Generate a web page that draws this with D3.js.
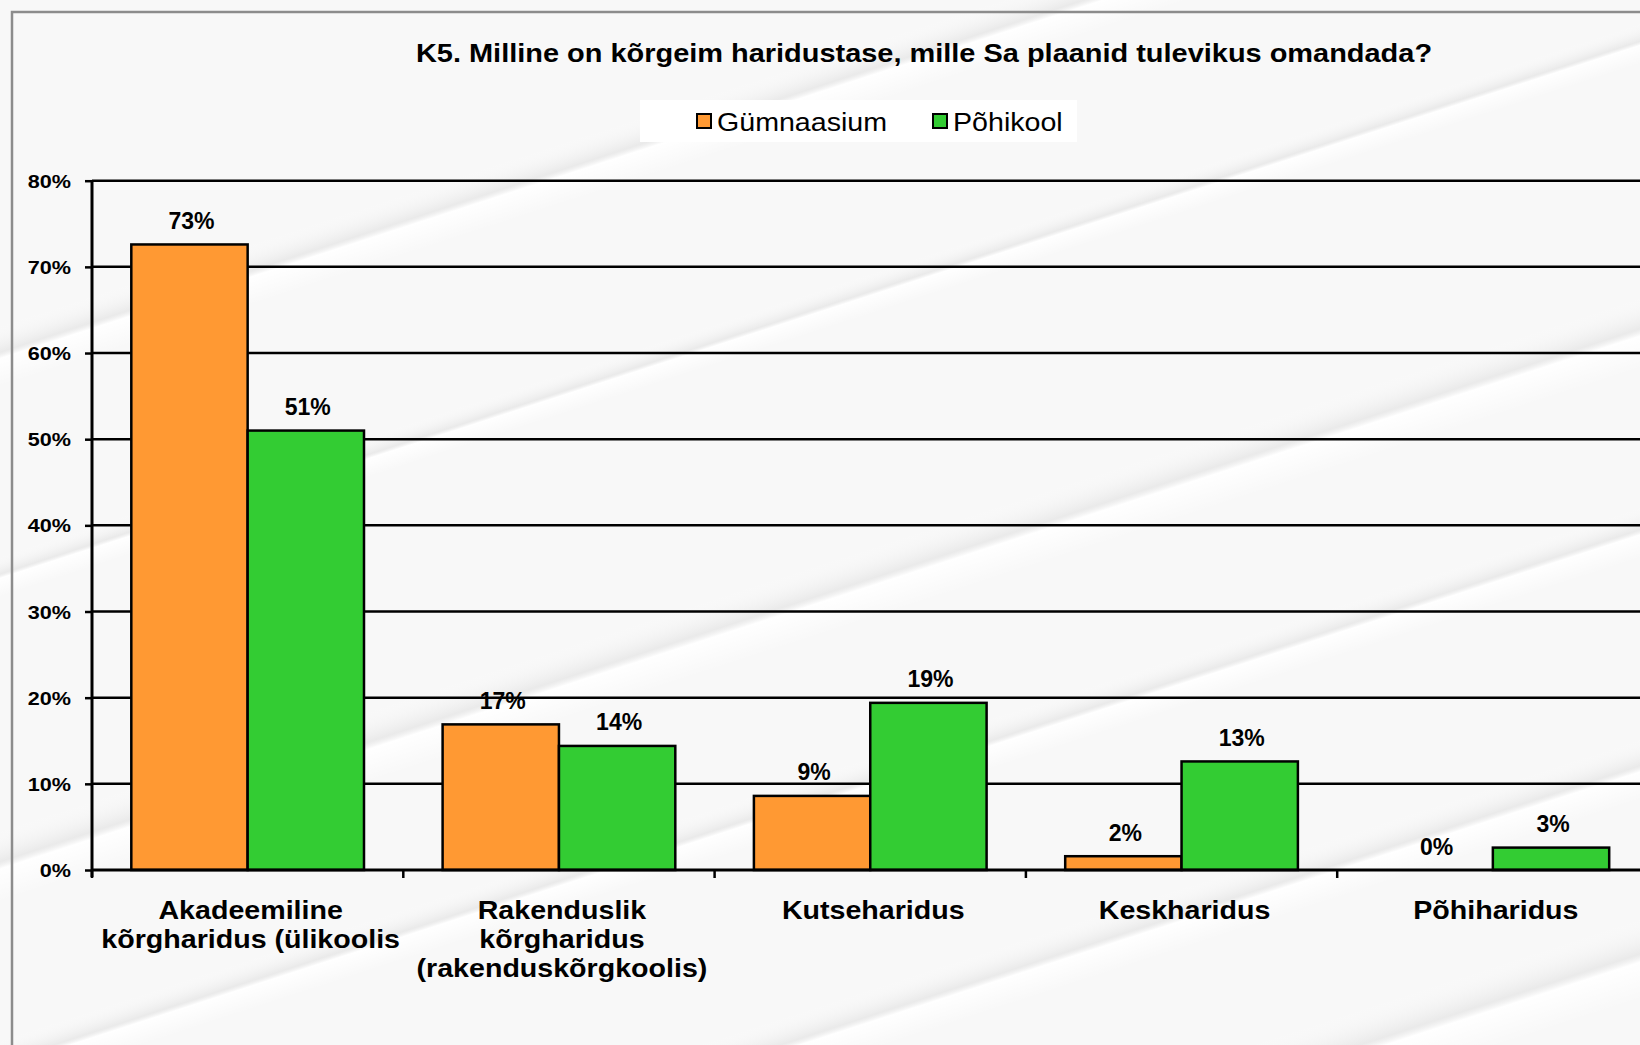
<!DOCTYPE html>
<html>
<head>
<meta charset="utf-8">
<script src="https://cdnjs.cloudflare.com/ajax/libs/d3/7.8.5/d3.min.js"></script>
<style>
  body { margin: 0; background: #f4f4f4; }
  svg { display: block; font-family: "Liberation Sans", Arial, sans-serif; }
</style>
</head>
<body>
<div id="chart"></div>
<script>
var svgWidth = 1640;
var svgHeight = 1045;

// chart data
var title = "K5. Milline on kõrgeim haridustase, mille Sa plaanid tulevikus omandada?";
var categories = ["Akadeemiline\nkõrgharidus (ülikoolis", "Rakenduslik\nkõrgharidus\n(rakenduskõrgkoolis)", "Kutseharidus", "Keskharidus", "Põhiharidus"];
var seriesNames = ["Gümnaasium", "Põhikool"];
var gymnaasium = [72.6, 16.9, 8.6, 1.6, 0];
var pohikool = [51.0, 14.4, 19.4, 12.6, 2.6];
var yTicks = [0, 10, 20, 30, 40, 50, 60, 70, 80];
var colors = ["#FF9933", "#33CC33"];

var series = [gymnaasium, pohikool];

var svg = d3.select("#chart")
  .append("svg")
  .attr("width", svgWidth)
  .attr("height", svgHeight);

// background with soft diagonal streaks
var defs = svg.append("defs");
var grad = defs.append("linearGradient")
  .attr("id", "streak")
  .attr("x1", 0).attr("y1", 0).attr("x2", 0).attr("y2", 1);
grad.append("stop").attr("offset", "0%").attr("stop-color", "#ffffff").attr("stop-opacity", 0);
grad.append("stop").attr("offset", "45%").attr("stop-color", "#e4e4e4").attr("stop-opacity", 0.7);
grad.append("stop").attr("offset", "55%").attr("stop-color", "#ffffff").attr("stop-opacity", 1);
grad.append("stop").attr("offset", "100%").attr("stop-color", "#ffffff").attr("stop-opacity", 0);

svg.append("rect")
  .attr("width", svgWidth).attr("height", svgHeight)
  .attr("fill", "#f8f8f8");

var streaks = svg.append("g").attr("transform", "rotate(-18 820 520)");
[[-300, 80, 60], [-300, 300, 40], [-300, 560, 70], [-300, 760, 50], [-300, 980, 60], [-300, 1150, 80]].forEach(function(s) {
  streaks.append("rect")
    .attr("x", s[0]).attr("y", s[1])
    .attr("width", 2400).attr("height", s[2])
    .attr("fill", "url(#streak)");
});

// frame
svg.append("path")
  .attr("d", "M12,1045 L12,12 L1640,12")
  .attr("fill", "none")
  .attr("stroke", "#8c8c8c")
  .attr("stroke-width", 2.5);

// title
svg.append("text")
  .attr("transform", "translate(924,62) scale(1.135,1)")
  .attr("text-anchor", "middle")
  .attr("font-size", 25.5)
  .attr("font-weight", "bold")
  .attr("fill", "#000")
  .text(title);

// legend
var legend = svg.append("g");
legend.append("rect")
  .attr("x", 640).attr("y", 100)
  .attr("width", 437).attr("height", 42)
  .attr("fill", "#ffffff");
var legendX = [697, 933];
seriesNames.forEach(function(name, i) {
  legend.append("rect")
    .attr("x", legendX[i]).attr("y", 114)
    .attr("width", 14).attr("height", 14)
    .attr("fill", colors[i])
    .attr("stroke", "#000")
    .attr("stroke-width", 2);
  legend.append("text")
    .attr("transform", "translate(" + (legendX[i] + 20) + ",131) scale(1.1,1)")
    .attr("font-size", 26)
    .attr("fill", "#000")
    .text(name);
});

// scales
var plotLeft = 92;
var plotRight = 92 + 5 * 311.3;
var plotTop = 180.7;
var plotBottom = 870;

var xScale = d3.scaleBand()
  .domain(categories)
  .range([plotLeft, plotRight])
  .paddingInner(0.2525)
  .paddingOuter(0.12625);

var xSub = d3.scaleBand()
  .domain(d3.range(series.length))
  .range([0, xScale.bandwidth()]);

var yScale = d3.scaleLinear()
  .domain([0, 80])
  .range([plotBottom, plotTop]);

// gridlines
svg.append("g")
  .selectAll("line")
  .data(yTicks.filter(function(d) { return d > 0; }))
  .enter()
  .append("line")
  .attr("x1", plotLeft).attr("x2", plotRight)
  .attr("y1", function(d) { return yScale(d); })
  .attr("y2", function(d) { return yScale(d); })
  .attr("stroke", "#000")
  .attr("stroke-width", 2.5);

// bars
var groups = svg.append("g")
  .selectAll("g")
  .data(categories)
  .enter()
  .append("g")
  .attr("transform", function(d) { return "translate(" + xScale(d) + ",0)"; });

groups.selectAll("rect")
  .data(function(d, ci) { return series.map(function(s, si) { return { si: si, v: s[ci] }; }); })
  .enter()
  .filter(function(d) { return d.v > 0; })
  .append("rect")
  .attr("x", function(d) { return xSub(d.si); })
  .attr("y", function(d) { return yScale(d.v); })
  .attr("width", xSub.bandwidth())
  .attr("height", function(d) { return yScale(0) - yScale(d.v); })
  .attr("fill", function(d) { return colors[d.si]; })
  .attr("stroke", "#000")
  .attr("stroke-width", 2.5);

// value labels
groups.selectAll("text")
  .data(function(d, ci) { return series.map(function(s, si) { return { si: si, v: s[ci] }; }); })
  .enter()
  .append("text")
  .attr("x", function(d) { return xSub(d.si) + xSub.bandwidth() / 2 + 2; })
  .attr("y", function(d) { return yScale(d.v) - 15.5; })
  .attr("text-anchor", "middle")
  .attr("font-size", 23)
  .attr("font-weight", "bold")
  .attr("fill", "#000")
  .text(function(d) { return Math.round(d.v) + "%"; });

// y axis
var yAxis = d3.axisLeft(yScale)
  .tickValues(yTicks)
  .tickSize(7)
  .tickSizeOuter(0)
  .tickFormat(function(d) { return d + "%"; });

var yG = svg.append("g")
  .attr("transform", "translate(" + plotLeft + ",0)")
  .call(yAxis);
yG.select(".domain")
  .attr("d", "M0," + plotTop + "V" + (plotBottom + 7))
  .attr("stroke", "#000")
  .attr("stroke-width", 3);
yG.selectAll(".tick line").attr("stroke", "#000").attr("stroke-width", 2.5);
yG.selectAll(".tick text")
  .attr("x", null)
  .attr("dy", null)
  .attr("transform", "translate(-21,6.5) scale(1.2,1)")
  .attr("font-size", 18)
  .attr("font-weight", "bold")
  .attr("font-family", "'Liberation Sans', Arial, sans-serif")
  .attr("fill", "#000");

// x axis baseline and ticks between categories
var xG = svg.append("g");
xG.append("line")
  .attr("x1", plotLeft).attr("x2", plotRight)
  .attr("y1", plotBottom).attr("y2", plotBottom)
  .attr("stroke", "#000")
  .attr("stroke-width", 3);
xG.selectAll("line.tick")
  .data(categories)
  .enter()
  .append("line")
  .attr("class", "tick")
  .attr("x1", function(d) { return xScale(d) - xScale.step() * 0.12625; })
  .attr("x2", function(d) { return xScale(d) - xScale.step() * 0.12625; })
  .attr("y1", plotBottom).attr("y2", plotBottom + 8)
  .attr("stroke", "#000")
  .attr("stroke-width", 2.5);

// category labels
xG.selectAll("g.cat")
  .data(categories)
  .enter()
  .append("g")
  .attr("class", "cat")
  .attr("transform", function(d) { return "translate(" + (xScale(d) + xScale.bandwidth() / 2 + 3) + ",919) scale(1.1,1)"; })
  .each(function(d) {
    var t = d3.select(this).append("text")
      .attr("text-anchor", "middle")
      .attr("font-size", 26)
      .attr("font-weight", "bold")
      .attr("fill", "#000");
    d.split("\n").forEach(function(line, i) {
      t.append("tspan").attr("x", 0).attr("y", i * 29).text(line);
    });
  });
</script>
</body>
</html>
